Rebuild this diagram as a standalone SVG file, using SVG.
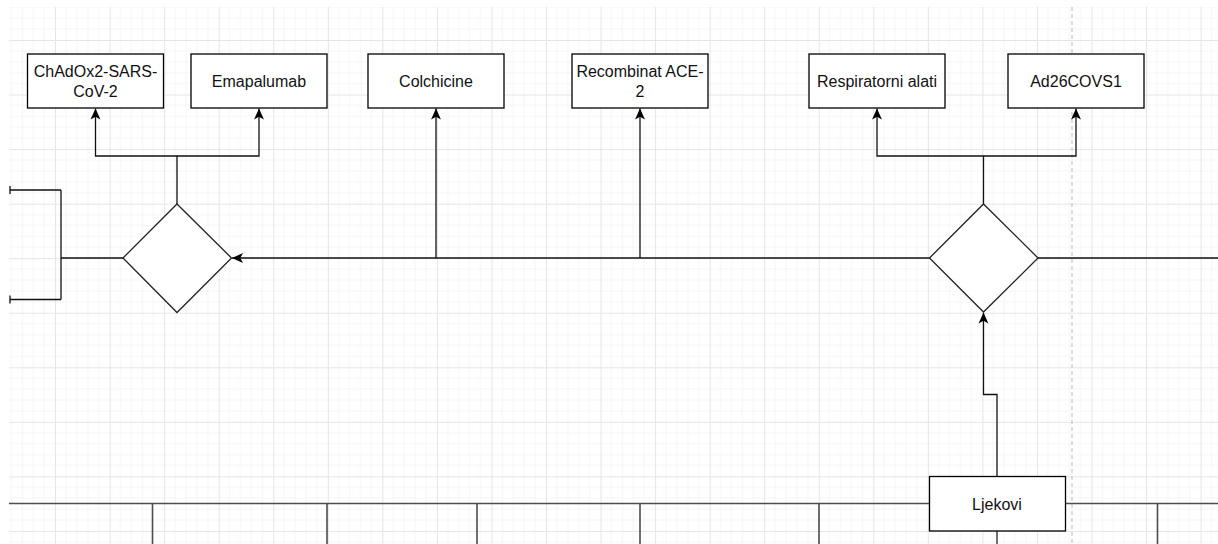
<svg xmlns="http://www.w3.org/2000/svg" width="1218" height="544" viewBox="0 0 1218 544">
<style>
.box{fill:#fff;stroke:#000;stroke-width:1.3}
.dia{fill:#fff;stroke:#222;stroke-width:1.3}
.lbl{font-family:"Liberation Sans",Arial,sans-serif;font-size:16px;fill:#111;text-anchor:middle}
.edge{fill:none;stroke:#111;stroke-width:1.3}
.base{fill:none;stroke:#4d4d4d;stroke-width:1.6}
</style>
<defs>
<pattern id="grid" patternUnits="userSpaceOnUse" x="0.5" y="-14.55" width="54.55" height="54.55">
<path d="M10.91,0V54.55M21.82,0V54.55M32.73,0V54.55M43.64,0V54.55M0,10.91H54.55M0,21.82H54.55M0,32.73H54.55M0,43.64H54.55" stroke="#f5f5f5" stroke-width="1" fill="none"/>
<path d="M0.5,0V54.55M0,0.5H54.55" stroke="#e5e5e5" stroke-width="1" fill="none"/>
</pattern>
<marker id="arr" viewBox="0 0 10 10" refX="10" refY="5" markerWidth="11" markerHeight="11" markerUnits="userSpaceOnUse" orient="auto">
<path d="M0,0.5 L10,5 L0,9.5 L2.5,5 Z" fill="#000"/>
</marker>
</defs>
<rect width="1218" height="544" fill="#fff"/>
<rect x="9" y="7" width="1209" height="537" fill="url(#grid)"/>
<line x1="1072" y1="7" x2="1072" y2="544" stroke="#bdbdbd" stroke-width="1" stroke-dasharray="4 3"/>

<g id="connectors">
<path class="edge" d="M177,204 V156 H95.5 V108.5" marker-end="url(#arr)"/>
<path class="edge" d="M177,156 H259 V108.5" marker-end="url(#arr)"/>
<path class="edge" d="M436,258 V108.5" marker-end="url(#arr)"/>
<path class="edge" d="M640,258 V108.5" marker-end="url(#arr)"/>
<path class="edge" d="M929.5,258 H232" marker-end="url(#arr)"/>
<path class="edge" d="M1038,258 H1218"/>
<path class="edge" d="M983.5,204 V156 H877 V108.5" marker-end="url(#arr)"/>
<path class="edge" d="M983.5,156 H1076 V108.5" marker-end="url(#arr)"/>
<path class="edge" d="M997,476.5 V394.5 H983.5 V312.5" marker-end="url(#arr)"/>
<path class="edge" d="M123,258 H61 M61,190 V299.5 M61,190 H10 M61,299.5 H10"/>
<path class="edge" d="M10,186 V194 M10,295.5 V303.5" stroke-width="1.8"/>
<path class="base" d="M9,503.5 H929 M1065,503.5 H1218"/>
<path class="base" d="M152.5,503.5 V544 M327,503.5 V544 M477,503.5 V544 M640,503.5 V544 M1157.5,503.5 V544"/>
<path class="base" d="M819,503.5 V544" stroke="#777" stroke-width="2"/>
<path class="base" d="M997,531 V544"/>
</g>

<g id="n-chadox"><rect class="box" x="27.5" y="54" width="136" height="54"/><text class="lbl" x="95.5" y="77">ChAdOx2-SARS-<tspan x="95.5" y="96.5">CoV-2</tspan></text></g>
<g id="n-emapalumab"><rect class="box" x="191" y="54" width="136" height="54"/><text class="lbl" x="259" y="87">Emapalumab</text></g>
<g id="n-colchicine"><rect class="box" x="368" y="54" width="136" height="54"/><text class="lbl" x="436" y="87">Colchicine</text></g>
<g id="n-ace2"><rect class="box" x="572" y="54" width="136" height="54"/><text class="lbl" x="640" y="77">Recombinat ACE-<tspan x="640" y="96.5">2</tspan></text></g>
<g id="n-resp"><rect class="box" x="809" y="54" width="136" height="54"/><text class="lbl" x="877" y="87">Respiratorni alati</text></g>
<g id="n-ad26"><rect class="box" x="1008" y="54" width="136" height="54"/><text class="lbl" x="1076" y="87">Ad26COVS1</text></g>
<g id="n-dia1"><polygon class="dia" points="177,204 231.5,258 177,312.5 123,258"/></g>
<g id="n-dia2"><polygon class="dia" points="983.5,204 1038,258 983.5,312 929.5,258"/></g>
<g id="n-ljekovi"><rect class="box" x="929.5" y="476.5" width="136" height="54.5"/><text class="lbl" x="997" y="509.5">Ljekovi</text></g>
</svg>
